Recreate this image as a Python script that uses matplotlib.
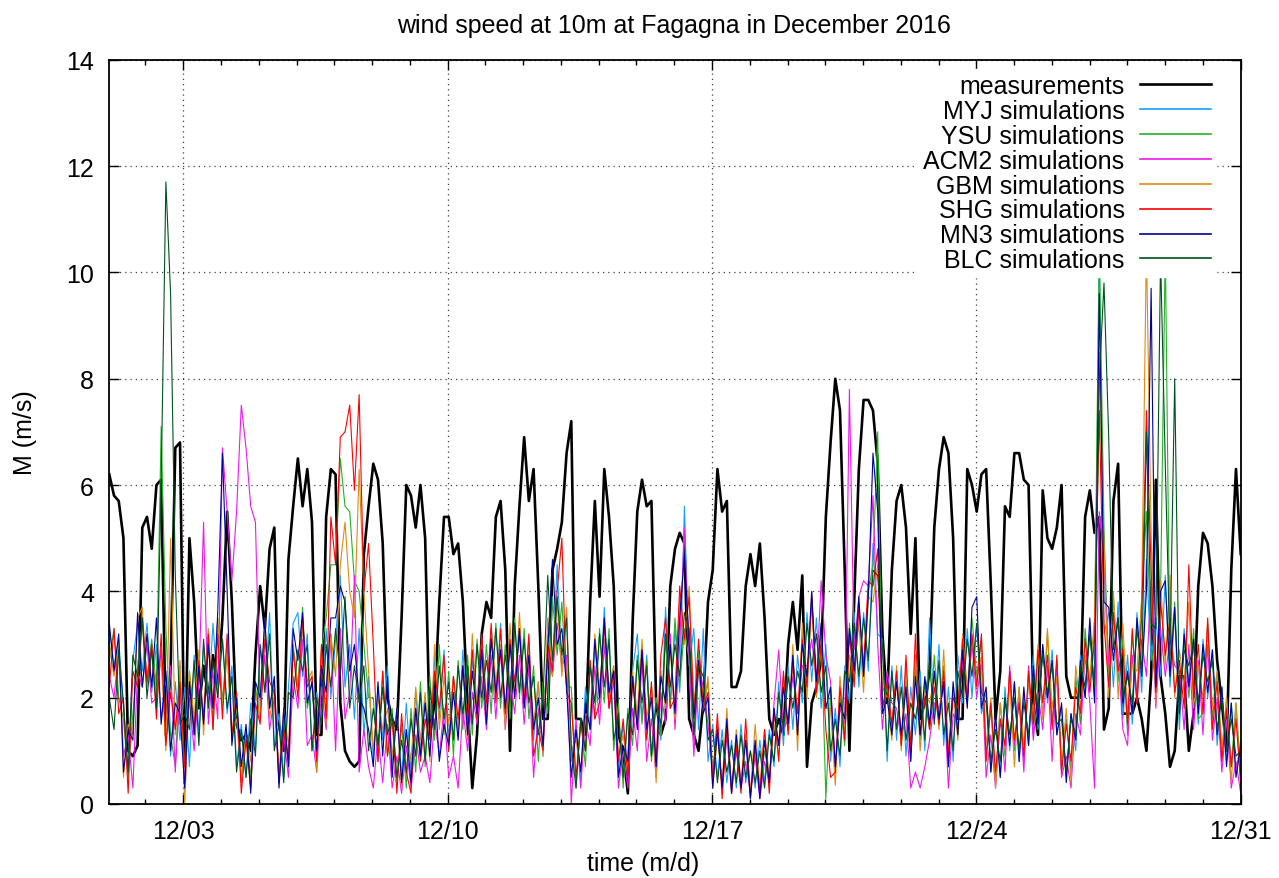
import matplotlib
matplotlib.use("Agg")
import matplotlib.pyplot as plt
import matplotlib.dates as mdates
import numpy as np
import pandas as pd

plt.rcParams['font.family'] = ['Liberation Sans', 'DejaVu Sans']

# 3-hourly samples from 2016-12-01 01:00 to 2016-12-31 00:00 (8 per day, day rows)
start = "2016-12-01 01:00"
end = "2016-12-31 00:00"

measurements = [
    6.2, 5.8, 5.7, 5.0, 1.0, 0.9, 1.1, 5.2,
    5.4, 4.8, 6.0, 6.1, 1.3, 2.5, 6.7, 6.8,
    0.4, 5.0, 3.8, 1.8, 2.6, 2.0, 2.8, 2.2,
    3.5, 5.5, 3.8, 1.5, 1.2, 1.3, 1.0, 2.8,
    4.1, 3.3, 4.8, 5.2, 1.5, 1.0, 4.6, 5.6,
    6.5, 5.6, 6.3, 5.3, 1.3, 1.3, 5.4, 6.3,
    6.2, 1.9, 1.0, 0.8, 0.7, 0.8, 4.7, 5.6,
    6.4, 6.1, 4.9, 2.0, 1.6, 1.4, 3.5, 6.0,
    5.8, 5.2, 6.0, 5.0, 1.3, 1.9, 3.8, 5.4,
    5.4, 4.7, 4.9, 3.8, 1.9, 0.3, 1.3, 3.2,
    3.8, 3.5, 5.4, 5.7, 4.4, 1.0, 4.1, 5.6,
    6.9, 5.7, 6.3, 4.1, 1.6, 1.6, 4.4, 4.8,
    5.3, 6.6, 7.2, 1.6, 1.6, 1.3, 3.8, 5.7,
    3.9, 6.3, 5.4, 4.1, 1.3, 1.0, 0.2, 3.4,
    5.5, 6.1, 5.6, 5.7, 1.9, 1.3, 1.6, 4.1,
    4.8, 5.1, 4.9, 1.6, 1.3, 1.0, 1.9, 3.8,
    4.4, 6.3, 5.5, 5.7, 2.2, 2.2, 2.5, 4.1,
    4.7, 4.1, 4.9, 3.5, 1.6, 1.3, 1.6, 1.3,
    3.0, 3.8, 2.9, 4.3, 0.7, 1.9, 2.2, 2.7,
    5.4, 6.8, 8.0, 7.4, 4.4, 1.0, 3.8, 6.3,
    7.6, 7.6, 7.4, 6.4, 3.2, 1.9, 4.4, 5.7,
    6.0, 5.2, 3.2, 5.0, 1.6, 1.9, 2.5, 5.2,
    6.3, 6.9, 6.6, 5.0, 1.6, 1.6, 6.3, 6.0,
    5.5, 6.2, 6.3, 4.1, 1.6, 2.5, 5.6, 5.4,
    6.6, 6.6, 6.1, 6.0, 1.9, 1.3, 5.9, 5.0,
    4.8, 5.2, 6.0, 2.4, 2.0, 2.0, 2.0, 5.4,
    5.9, 5.1, 5.4, 1.4, 1.8, 5.7, 6.4, 1.7,
    1.7, 1.7, 2.0, 1.6, 1.0, 2.4, 6.1, 2.4,
    1.7, 0.7, 1.0, 2.4, 2.4, 1.0, 1.7, 4.1,
    5.1, 4.9, 4.1, 2.7, 1.9, 1.0, 4.4, 6.3,
    4.7]

myj = [
    3.3, 2.6, 3.1, 1.8, 0.6, 2.7, 3.4, 2.5,
    3.4, 2.1, 3.0, 1.6, 2.4, 0.9, 2.3, 1.2,
    2.2, 0.7, 2.8, 1.3, 3.0, 1.9, 3.4, 2.1,
    3.1, 1.7, 2.6, 0.7, 1.5, 0.5, 1.9, 1.0,
    3.0, 2.1, 3.6, 1.1, 1.7, 0.5, 2.2, 3.4,
    3.6, 2.4, 3.2, 1.0, 2.1, 1.6, 3.3, 2.0,
    3.1, 4.3, 2.2, 3.0, 1.6, 3.3, 1.3, 2.4,
    0.8, 2.2, 1.2, 2.6, 0.7, 1.8, 0.5, 1.9,
    0.6, 2.1, 1.0, 2.0, 0.9, 2.8, 1.6, 2.9,
    1.2, 2.4, 1.3, 2.9, 1.5, 2.7, 1.9, 3.1,
    1.8, 3.3, 2.0, 3.4, 1.6, 3.0, 2.2, 3.3,
    2.0, 3.1, 1.2, 2.3, 0.9, 3.2, 2.6, 4.5,
    2.5, 3.6, 0.8, 1.5, 0.4, 2.2, 1.4, 3.0,
    1.9, 3.7, 2.0, 2.6, 0.6, 1.5, 0.7, 2.5,
    3.2, 1.6, 2.8, 0.9, 2.0, 1.2, 3.7, 1.9,
    3.3, 2.1, 5.6, 2.6, 3.3, 1.4, 3.3, 0.8,
    1.5, 0.5, 1.4, 0.4, 1.2, 0.3, 1.5, 0.4,
    1.0, 0.3, 1.2, 0.4, 1.4, 0.7, 2.3, 1.1,
    2.6, 1.4, 2.8, 1.9, 3.6, 2.3, 3.5, 1.8,
    3.0, 0.8, 1.8, 0.7, 2.6, 1.9, 3.6, 2.2,
    3.6, 2.5, 4.9, 3.2, 3.1, 0.8, 2.6, 1.2,
    2.6, 0.9, 2.2, 1.3, 2.5, 1.0, 3.5, 1.6,
    3.0, 1.1, 2.2, 0.8, 2.8, 1.9, 3.3, 2.0,
    3.4, 1.7, 2.1, 0.6, 1.6, 0.5, 2.2, 1.0,
    2.3, 0.8, 2.1, 1.1, 2.8, 1.4, 3.0, 1.9,
    2.9, 1.3, 1.8, 0.5, 1.7, 1.0, 2.8, 2.0,
    3.3, 2.0, 10.5, 3.2, 3.6, 2.2, 3.8, 1.6,
    2.8, 1.5, 3.6, 2.1, 4.6, 2.7, 3.5, 2.4,
    4.3, 2.2, 3.6, 1.4, 3.3, 2.3, 3.1, 1.5,
    3.1, 2.0, 2.9, 1.1, 2.2, 0.8, 1.9, 0.6,
    1.2]

ysu = [
    2.7, 3.3, 2.0, 1.6, 0.5, 1.7, 2.6, 3.4,
    2.4, 3.1, 2.2, 7.1, 3.3, 1.3, 0.7, 2.6,
    0.5, 2.5, 1.3, 2.5, 1.6, 3.2, 1.4, 3.5,
    1.9, 3.1, 1.2, 1.8, 0.4, 1.3, 0.5, 2.2,
    1.6, 3.4, 1.8, 2.3, 0.4, 1.6, 0.8, 3.0,
    2.2, 3.7, 1.8, 2.3, 0.8, 2.9, 3.5, 4.5,
    4.5, 6.5, 5.6, 5.5, 4.2, 4.0, 3.0, 2.0,
    2.0, 0.8, 2.5, 0.9, 1.8, 0.4, 1.5, 0.3,
    1.8, 0.6, 2.3, 0.7, 2.4, 1.2, 3.0, 1.3,
    2.5, 0.9, 2.7, 1.4, 2.8, 1.3, 3.1, 1.8,
    3.0, 1.7, 3.4, 1.8, 3.0, 1.6, 3.5, 2.0,
    3.3, 1.6, 2.6, 0.8, 2.3, 1.7, 3.9, 2.8,
    3.8, 2.2, 2.2, 0.3, 1.6, 0.7, 2.7, 1.6,
    3.3, 1.9, 3.3, 1.0, 1.9, 0.3, 1.8, 1.1,
    2.8, 1.5, 2.7, 0.8, 2.0, 1.3, 3.1, 1.8,
    3.5, 2.2, 3.3, 2.7, 1.2, 2.9, 1.8, 2.3,
    0.6, 1.4, 0.3, 1.5, 0.3, 1.2, 0.4, 1.3,
    0.2, 1.1, 0.3, 1.0, 0.5, 1.7, 1.1, 2.4,
    1.4, 2.8, 1.3, 3.2, 2.3, 3.8, 2.2, 3.3,
    0.1, 2.1, 0.6, 2.0, 1.1, 3.4, 2.3, 3.7,
    2.4, 4.0, 4.5, 7.0, 1.8, 2.2, 1.4, 2.5,
    1.1, 2.3, 0.8, 2.6, 1.2, 2.3, 1.4, 2.8,
    1.5, 2.6, 0.8, 2.2, 1.3, 3.0, 1.9, 3.5,
    2.4, 3.1, 0.9, 1.8, 0.4, 1.9, 0.9, 2.5,
    1.0, 2.2, 0.8, 2.4, 1.3, 2.9, 1.6, 3.2,
    1.5, 2.7, 0.6, 1.6, 0.6, 2.4, 1.5, 3.3,
    2.2, 3.3, 10.5, 5.2, 2.4, 3.9, 2.3, 3.1,
    1.3, 3.2, 2.0, 3.8, 5.5, 3.0, 2.2, 3.9,
    10.5, 2.6, 3.8, 1.6, 3.1, 2.0, 3.3, 1.6,
    1.7, 3.4, 1.6, 2.5, 0.9, 2.0, 0.7, 1.9,
    0.6]

acm2 = [
    2.4, 2.0, 2.9, 0.9, 1.3, 0.3, 2.5, 2.2,
    3.0, 1.9, 2.0, 2.9, 1.2, 2.6, 0.6, 2.2,
    0.4, 2.0, 1.0, 2.3, 5.3, 1.5, 2.5, 1.6,
    6.7, 5.5, 4.2, 5.5, 7.5, 6.7, 5.6, 5.3,
    1.8, 2.8, 1.4, 2.0, 0.4, 1.3, 0.5, 2.4,
    1.8, 3.1, 1.1, 1.3, 0.6, 2.2, 1.4, 3.2,
    1.0, 3.3, 1.6, 2.1, 4.3, 0.6, 1.4, 0.7,
    0.3, 1.3, 0.4, 1.5, 0.3, 0.9, 0.2, 1.1,
    0.3, 1.3, 0.6, 0.9, 0.4, 1.6, 0.9, 1.8,
    0.5, 0.9, 0.3, 1.8, 1.0, 2.1, 1.5, 2.4,
    1.4, 2.8, 1.6, 2.9, 1.4, 2.4, 1.7, 2.8,
    1.5, 2.6, 0.5, 1.8, 1.0, 2.9, 2.4, 3.4,
    2.6, 2.8, 0.0, 1.6, 0.3, 1.6, 1.1, 2.6,
    1.5, 3.0, 1.8, 2.3, 0.3, 1.0, 0.3, 1.8,
    1.0, 2.7, 0.8, 1.6, 0.5, 2.1, 1.5, 3.2,
    1.4, 3.0, 5.2, 2.7, 0.9, 2.6, 2.2, 1.5,
    0.6, 1.5, 0.3, 1.3, 0.2, 1.0, 0.3, 0.8,
    0.2, 0.9, 0.1, 0.8, 0.4, 1.9, 2.9, 1.4,
    1.6, 2.4, 1.7, 2.6, 2.6, 3.1, 2.3, 4.2,
    2.8, 2.3, 0.7, 1.8, 1.5, 7.8, 2.9, 3.9,
    4.2, 4.1, 5.8, 3.0, 1.4, 2.5, 1.9, 1.8,
    1.2, 1.7, 0.3, 0.6, 0.3, 0.7, 1.2, 1.9,
    1.8, 2.2, 0.3, 1.7, 1.5, 2.7, 2.0, 3.0,
    2.0, 2.7, 0.5, 1.3, 0.3, 1.6, 0.6, 2.6,
    1.1, 2.0, 0.6, 2.6, 1.2, 2.1, 1.4, 2.6,
    0.8, 2.6, 0.5, 0.9, 0.3, 1.7, 1.3, 2.8,
    1.9, 0.3, 5.5, 4.6, 2.6, 3.6, 2.8, 1.4,
    1.1, 2.8, 1.9, 3.1, 2.4, 4.2, 1.8, 3.3,
    2.4, 3.1, 2.6, 2.5, 1.4, 3.0, 1.4, 2.7,
    1.3, 3.0, 1.2, 2.0, 0.6, 1.6, 0.3, 0.8,
    0.2]

gbm = [
    3.0, 2.4, 3.0, 0.5, 1.5, 1.3, 3.5, 3.7,
    2.2, 2.9, 2.1, 2.7, 1.0, 5.0, 1.3, 2.7,
    0.0, 2.5, 1.6, 2.9, 1.3, 3.3, 1.8, 3.5,
    1.8, 2.8, 1.3, 1.6, 0.5, 1.4, 0.8, 2.1,
    1.6, 3.5, 1.6, 2.2, 0.6, 1.8, 1.1, 2.9,
    2.2, 3.3, 2.3, 2.5, 0.6, 2.9, 1.5, 3.2,
    2.4, 4.5, 5.3, 4.0, 3.5, 6.3, 4.0, 2.5,
    1.0, 2.0, 1.4, 1.8, 0.9, 1.8, 0.3, 1.4,
    0.8, 2.2, 1.2, 2.1, 0.8, 3.0, 1.4, 2.4,
    1.5, 2.4, 1.4, 2.6, 1.2, 3.2, 1.8, 2.8,
    1.6, 3.2, 2.3, 3.0, 1.4, 3.4, 2.0, 3.6,
    2.0, 2.9, 1.5, 2.3, 0.9, 3.5, 2.4, 3.8,
    2.4, 3.7, 1.0, 1.2, 0.6, 1.7, 1.6, 3.2,
    2.2, 3.1, 2.2, 2.6, 0.9, 1.3, 0.7, 2.5,
    1.7, 3.1, 1.6, 2.2, 0.4, 2.5, 1.8, 2.9,
    1.6, 3.9, 3.0, 4.1, 1.9, 2.5, 1.7, 2.4,
    0.3, 1.3, 0.4, 1.8, 0.2, 1.4, 0.4, 1.3,
    0.2, 1.5, 0.3, 1.4, 0.5, 1.5, 0.9, 2.3,
    1.4, 3.0, 1.0, 3.4, 2.0, 4.0, 2.0, 2.9,
    1.8, 1.8, 0.35, 2.4, 1.3, 2.8, 2.5, 3.4,
    2.1, 3.9, 3.8, 4.5, 2.2, 2.0, 1.2, 2.6,
    1.0, 2.6, 1.1, 2.8, 1.0, 2.1, 1.9, 2.4,
    1.4, 2.9, 1.0, 2.2, 1.2, 3.2, 2.2, 3.1,
    2.3, 2.8, 1.1, 2.0, 0.3, 1.9, 1.0, 2.3,
    0.7, 2.2, 1.1, 2.3, 1.7, 3.0, 1.6, 3.3,
    1.8, 2.4, 0.7, 1.8, 0.4, 2.6, 1.8, 2.8,
    2.4, 3.5, 8.5, 4.8, 2.0, 4.0, 2.0, 3.4,
    1.7, 2.6, 2.5, 3.9, 10.5, 5.1, 1.9, 4.2,
    2.6, 4.3, 2.0, 2.9, 2.2, 3.8, 1.8, 2.6,
    2.0, 3.3, 1.8, 2.5, 1.0, 2.0, 0.4, 1.9,
    0.3]

shg = [
    2.2, 3.3, 1.7, 2.0, 0.2, 2.5, 2.2, 3.5,
    2.3, 3.0, 1.6, 3.2, 1.1, 2.1, 1.4, 2.3,
    0.7, 2.2, 1.4, 2.7, 1.6, 3.2, 1.4, 3.2,
    1.6, 3.2, 1.3, 2.1, 0.2, 1.2, 0.3, 1.9,
    1.5, 3.1, 2.3, 2.1, 0.5, 1.4, 0.8, 2.9,
    2.0, 3.5, 2.2, 2.4, 0.8, 3.0, 1.6, 5.4,
    4.5, 6.9, 7.0, 7.5, 5.9, 7.7, 4.0, 4.9,
    3.0, 0.8, 2.5, 0.9, 1.6, 0.2, 1.7, 0.6,
    0.2, 1.8, 0.8, 1.6, 1.2, 2.5, 1.8, 2.8,
    1.0, 2.4, 1.6, 2.6, 1.5, 2.9, 1.6, 3.2,
    1.9, 3.4, 1.9, 3.3, 1.7, 3.1, 2.3, 3.2,
    1.9, 3.2, 0.9, 1.4, 1.0, 3.0, 2.5, 4.0,
    5.0, 2.1, 1.9, 0.5, 1.5, 1.0, 2.7, 1.6,
    1.9, 3.4, 1.8, 2.5, 0.8, 1.6, 0.5, 2.3,
    1.5, 2.9, 1.2, 2.3, 0.8, 2.8, 3.5, 1.8,
    2.0, 4.1, 3.1, 3.9, 1.7, 3.1, 1.8, 2.1,
    0.4, 1.7, 0.1, 1.4, 0.3, 1.1, 0.2, 1.6,
    0.1, 1.1, 0.2, 1.4, 0.2, 1.8, 0.8, 2.5,
    1.3, 2.7, 1.7, 3.1, 2.2, 3.9, 2.1, 3.0,
    1.4, 0.5, 0.6, 2.2, 1.2, 3.2, 2.2, 3.7,
    2.6, 4.2, 4.1, 4.8, 1.8, 2.3, 1.5, 2.5,
    1.1, 2.8, 1.0, 3.2, 1.3, 2.0, 1.4, 2.2,
    1.5, 2.5, 0.9, 2.0, 1.8, 3.1, 1.9, 3.2,
    2.2, 3.2, 0.8, 1.9, 0.6, 1.6, 1.1, 2.5,
    1.2, 1.9, 0.9, 2.5, 1.5, 2.9, 1.9, 2.8,
    1.4, 2.8, 0.6, 1.5, 0.8, 2.2, 1.7, 3.1,
    2.1, 3.1, 7.4, 3.4, 2.2, 3.6, 2.5, 2.9,
    1.5, 3.3, 1.9, 3.5, 7.4, 4.4, 2.1, 3.8,
    2.8, 3.5, 2.1, 2.7, 1.8, 4.5, 2.0, 3.0,
    1.7, 3.5, 1.4, 2.3, 0.8, 1.8, 0.7, 1.6,
    0.4]

mn3 = [
    3.4, 2.5, 3.2, 0.6, 1.4, 1.2, 3.6, 2.2,
    3.2, 2.2, 3.5, 1.5, 2.5, 1.0, 1.9, 1.7,
    0.3, 2.3, 1.3, 2.6, 1.5, 3.0, 1.8, 3.6,
    6.6, 4.0, 1.1, 2.0, 0.7, 1.5, 0.2, 2.3,
    2.0, 3.5, 1.8, 2.4, 0.3, 1.8, 0.7, 3.3,
    2.7, 3.6, 1.9, 2.3, 1.0, 2.6, 2.1, 3.5,
    3.5, 4.1, 3.8, 2.5, 3.0, 2.0, 1.8, 1.4,
    0.7, 2.3, 0.9, 2.4, 0.5, 1.8, 0.4, 1.4,
    0.4, 1.8, 0.9, 1.9, 0.9, 2.2, 0.8, 1.5,
    1.1, 2.1, 1.2, 2.6, 1.3, 2.5, 1.7, 2.9,
    1.5, 3.1, 2.1, 2.9, 1.8, 3.0, 2.0, 3.3,
    1.8, 2.8, 1.4, 2.0, 1.1, 2.9, 4.6, 3.0,
    3.3, 2.2, 0.5, 1.4, 0.6, 1.9, 1.4, 3.1,
    2.0, 3.5, 2.1, 2.5, 0.5, 1.1, 0.8, 2.4,
    1.4, 2.9, 1.4, 2.0, 0.7, 2.4, 1.9, 3.0,
    1.7, 3.5, 4.7, 3.0, 1.6, 2.7, 1.7, 2.0,
    0.3, 1.4, 0.3, 1.6, 0.2, 1.3, 0.3, 1.2,
    0.1, 1.2, 0.1, 1.2, 0.4, 1.8, 1.1, 2.2,
    1.5, 2.8, 1.3, 3.0, 2.4, 4.0, 2.3, 3.4,
    1.8, 2.2, 0.7, 1.9, 1.6, 3.3, 2.5, 3.9,
    2.4, 3.9, 6.6, 5.5, 1.7, 2.0, 1.3, 2.3,
    1.3, 2.2, 0.8, 2.4, 1.3, 2.4, 1.5, 2.5,
    1.6, 2.3, 0.7, 2.3, 1.3, 2.9, 1.8, 3.7,
    3.9, 1.8, 2.2, 0.6, 1.7, 0.5, 2.0, 1.1,
    2.3, 0.8, 2.2, 1.1, 2.6, 1.5, 3.0, 2.0,
    2.7, 1.3, 1.9, 0.4, 1.7, 1.2, 2.7, 2.0,
    3.5, 1.9, 9.6, 3.8, 3.7, 2.7, 3.5, 1.9,
    2.5, 1.7, 3.5, 2.4, 4.0, 9.7, 2.2, 4.0,
    4.2, 2.4, 3.7, 1.7, 3.2, 2.2, 3.1, 1.7,
    3.0, 2.1, 2.9, 1.3, 2.2, 0.7, 1.9, 0.5,
    1.1]

blc = [
    2.0, 1.4, 2.9, 1.9, 0.6, 2.8, 2.4, 3.5,
    2.0, 2.9, 1.8, 6.0, 11.7, 9.6, 4.3, 1.5,
    1.7, 1.4, 2.7, 1.1, 3.1, 1.8, 2.7, 2.0,
    3.1, 1.8, 2.4, 0.6, 1.4, 0.5, 1.6, 0.9,
    3.0, 2.1, 3.2, 1.0, 1.5, 0.4, 2.1, 2.0,
    2.9, 2.5, 3.0, 1.0, 2.0, 1.5, 3.0, 2.2,
    3.3, 2.4, 3.9, 1.8, 2.6, 1.9, 2.6, 1.0,
    1.8, 1.1, 2.2, 1.3, 1.7, 0.5, 1.2, 0.6,
    1.6, 0.9, 2.1, 0.8, 2.2, 1.4, 2.6, 1.6,
    2.3, 1.2, 2.6, 1.7, 2.6, 1.5, 3.0, 2.0,
    2.7, 2.1, 3.3, 2.0, 2.8, 2.1, 3.4, 2.1,
    3.1, 1.9, 2.4, 1.3, 2.0, 4.3, 2.7, 3.9,
    2.8, 3.5, 1.1, 0.3, 1.6, 1.0, 2.6, 1.9,
    3.2, 2.2, 3.1, 1.2, 1.7, 0.5, 1.7, 1.3,
    2.7, 1.9, 2.6, 0.9, 1.9, 1.5, 3.2, 2.2,
    3.0, 2.4, 3.6, 3.3, 1.3, 2.6, 2.4, 1.2,
    1.4, 0.4, 1.2, 0.6, 1.1, 0.4, 1.3, 0.5,
    1.0, 0.4, 1.0, 0.3, 1.3, 0.8, 2.1, 1.4,
    2.4, 1.8, 2.5, 2.1, 3.4, 2.6, 3.2, 2.1,
    2.6, 1.0, 1.6, 0.9, 2.5, 2.3, 3.4, 2.4,
    3.5, 2.7, 4.4, 4.3, 3.0, 1.0, 2.5, 1.4,
    2.2, 1.2, 1.9, 1.6, 2.2, 1.2, 2.7, 1.5,
    2.7, 1.3, 1.9, 1.0, 2.5, 2.0, 3.1, 2.4,
    3.4, 2.1, 1.9, 0.8, 1.4, 0.8, 2.0, 1.3,
    2.0, 1.0, 1.9, 1.3, 2.4, 1.8, 2.8, 2.1,
    2.6, 1.5, 1.6, 0.6, 1.6, 1.3, 2.6, 2.2,
    3.2, 2.2, 8.0, 9.8, 6.9, 2.9, 3.5, 2.0,
    2.4, 1.9, 3.3, 2.5, 7.0, 3.4, 3.3, 10.3,
    6.4, 2.8, 8.0, 1.8, 2.9, 2.6, 3.0, 1.9,
    2.8, 2.3, 2.7, 1.4, 2.0, 1.0, 1.6, 0.9,
    1.0]

series_labels = ["measurements", "MYJ simulations", "YSU simulations",
                 "ACM2 simulations", "GBM simulations", "SHG simulations",
                 "MN3 simulations", "BLC simulations"]
series_values = [measurements, myj, ysu, acm2, gbm, shg, mn3, blc]
series_colors = ["#000000", "#14a0ff", "#28b028", "#ee18ee", "#e08a14",
                 "#ff0000", "#00009a", "#00521e"]
series_widths = [1.9, 0.8, 0.8, 0.8, 0.8, 0.8, 0.8, 0.8]

yticks = [0, 2, 4, 6, 8, 10, 12, 14]
major_days = ["2016-12-03", "2016-12-10", "2016-12-17", "2016-12-24", "2016-12-31"]

times = pd.date_range(start, end, periods=len(measurements))

FS = 18
W, H = 1279, 879
fig = plt.figure(figsize=(W / 100, H / 100), dpi=100)
ax = fig.add_axes([109.3 / W, 1 - 805 / H, (1240.7 - 109.3) / W, (805 - 60.7) / H])

for vals, lab, col, lw in zip(series_values, series_labels, series_colors, series_widths):
    ax.plot(times, vals, color=col, lw=lw, label=lab)

ax.set_xlim(times[0], times[-1])
ax.set_ylim(0, 14)
ax.set_yticks(yticks)
ax.set_xticks(pd.to_datetime(major_days))
ax.xaxis.set_major_formatter(mdates.DateFormatter("%m/%d"))
ax.xaxis.set_minor_locator(mdates.DayLocator())

ax.grid(True, which='major', color='#404040', linestyle=(0, (1, 3.2)), lw=0.9)
ax.set_axisbelow(True)

ax.tick_params(which='both', direction='in', top=True, right=True, colors='black',
               labelsize=FS)
ax.tick_params(axis='x', which='major', length=7, width=1.0, pad=11)
ax.tick_params(axis='x', which='minor', length=3.6, width=1.0)
ax.tick_params(axis='y', which='major', length=7, width=1.0, pad=11)
for s in ax.spines.values():
    s.set_linewidth(1.3)

leg = ax.legend(loc='upper right', bbox_to_anchor=(0.978, 0.9875), markerfirst=False,
                frameon=True, framealpha=1.0, facecolor='white', edgecolor='white',
                fancybox=False, fontsize=FS, handlelength=2.85, handletextpad=0.6,
                labelspacing=0.035, borderpad=0.2, borderaxespad=0.0)
for line in leg.get_lines():
    line.set_linewidth(1.2)
leg.get_lines()[0].set_linewidth(1.9)

fig.text(673.5 / W, 1 - 26 / H, "wind speed at 10m at Fagagna in December 2016",
         ha='center', va='center', fontsize=FS)
fig.text(643 / W, 1 - 864 / H, "time (m/d)", ha='center', va='center', fontsize=FS)
fig.text(25 / W, 1 - 433 / H, "M (m/s)", ha='center', va='center', rotation=90,
         fontsize=FS)

fig.savefig("out.png", dpi=100)
